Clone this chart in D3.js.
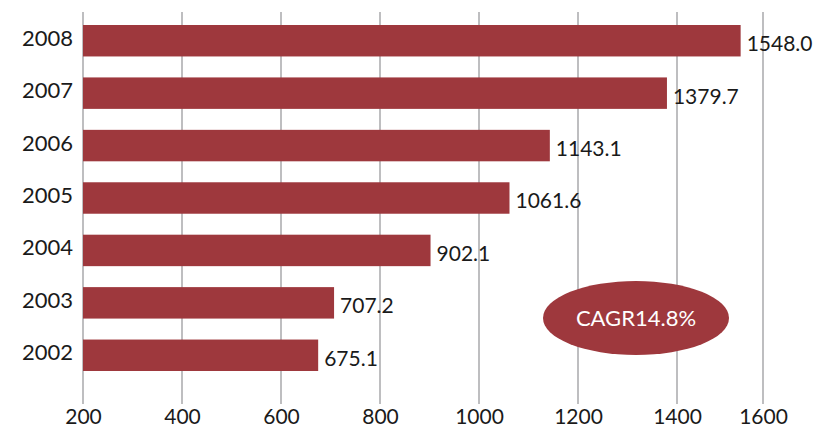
<!DOCTYPE html>
<html><head><meta charset="utf-8">
<script src="https://cdn.jsdelivr.net/npm/d3@7"></script>
<style>html,body{margin:0;padding:0;background:#fff;}svg{display:block;}</style>
</head><body>
<script>
const years = ["2008","2007","2006","2005","2004","2003","2002"];
const values = [1548.0, 1379.7, 1143.1, 1061.6, 902.1, 707.2, 675.1];
const labels = ["1548.0","1379.7","1143.1","1061.6","902.1","707.2","675.1"];
const ticks = [200, 400, 600, 800, 1000, 1200, 1400, 1600];
const badge = "CAGR14.8%";

const W = 831, H = 439;
const font = "Lato, 'Open Sans', sans-serif";
const barColor = "#9e383d";
const textColor = "#1a1a1a";
const svg = d3.select("body").append("svg").attr("width", W).attr("height", H);

const x = d3.scaleLinear().domain([200, 1400, 1600]).range([83, 677, 763]);
const y = d3.scaleBand().domain(years).range([25, 371]).paddingInner(0.4).paddingOuter(0);

// gridlines
svg.append("g").selectAll("line").data(ticks).join("line")
  .attr("x1", d => x(d)).attr("x2", d => x(d))
  .attr("y1", 12).attr("y2", 404)
  .attr("stroke", "#a9a9ab").attr("stroke-width", 1.5);

// x axis tick labels
const xa = svg.append("g").attr("transform", "translate(0,404)")
  .call(d3.axisBottom(x).tickValues(ticks).tickSize(0).tickPadding(5).tickFormat(d3.format("d")));
xa.select(".domain").remove();
xa.selectAll("text").attr("font-family", font).attr("font-size", 21).attr("fill", textColor);

// y axis labels
const ya = svg.append("g").attr("transform", "translate(74,-2)")
  .call(d3.axisLeft(y).tickSize(0).tickPadding(1));
ya.select(".domain").remove();
ya.selectAll("text").attr("font-family", font).attr("font-size", 22).attr("fill", textColor);

// bars
svg.append("g").selectAll("rect").data(values).join("rect")
  .attr("x", x(200)).attr("y", (d, i) => y(years[i]))
  .attr("width", d => x(d) - x(200)).attr("height", y.bandwidth())
  .attr("fill", barColor);

// value labels
svg.append("g").selectAll("text").data(values).join("text")
  .attr("x", d => x(d) + 6)
  .attr("y", (d, i) => y(years[i]) + y.bandwidth() / 2 + 3)
  .attr("dy", "0.35em")
  .attr("font-family", font).attr("font-size", 21).attr("fill", textColor)
  .text((d, i) => labels[i]);

// CAGR badge
svg.append("ellipse").attr("cx", 636).attr("cy", 318).attr("rx", 93).attr("ry", 37).attr("fill", barColor);
svg.append("text").attr("x", 636).attr("y", 318).attr("dy", "0.35em").attr("text-anchor", "middle")
  .attr("font-family", font).attr("font-size", 22).attr("fill", "#fff").text(badge);
</script>
</body></html>
